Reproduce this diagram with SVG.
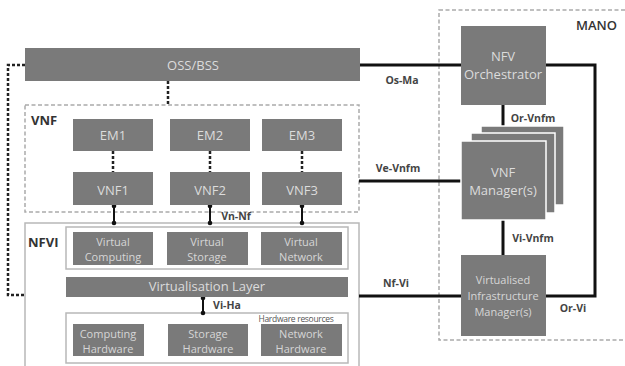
<svg xmlns="http://www.w3.org/2000/svg" width="625" height="366" viewBox="0 0 625 366">
<style>
.box{fill:#7a7a7a}
.frame{fill:none;stroke:#b8b8b8;stroke-width:1.5}
.dframe{fill:none;stroke:#aaaaaa;stroke-width:1.5;stroke-dasharray:4 2.5}
.bt{font-family:"Open Sans","DejaVu Sans",sans-serif;font-size:13px;fill:#dcdcdc;text-anchor:middle}
.bs{font-family:"Open Sans","DejaVu Sans",sans-serif;font-size:11px;fill:#d6d6d6;text-anchor:middle}
.lbl{font-family:"Open Sans","DejaVu Sans",sans-serif;font-size:10.5px;font-weight:bold;fill:#444;text-anchor:middle}
.ttl{font-family:"Open Sans","DejaVu Sans",sans-serif;font-size:13px;font-weight:bold;fill:#333}
.solid{fill:none;stroke:#111;stroke-width:3}
.thin{fill:none;stroke:#111;stroke-width:2}
.dash{fill:none;stroke:#222;stroke-width:2.5;stroke-dasharray:3 2}
.dot{fill:#111}
</style>
<rect width="625" height="366" fill="#ffffff"/>

<g id="mano-frame">
<rect class="dframe" x="439" y="10" width="200" height="330"/>
<text class="ttl" x="576" y="30" style="font-weight:600">MANO</text>
</g>

<g id="vnf-frame">
<rect class="dframe" x="25" y="105" width="334" height="107"/>
<text class="ttl" x="31" y="125">VNF</text>
</g>

<g id="nfvi-frame">
<rect class="frame" x="25" y="223" width="334" height="150"/>
<text class="ttl" x="28" y="247">NFVI</text>
<rect class="frame" x="66" y="227" width="282" height="42"/>
<rect class="frame" x="66" y="313" width="282" height="50"/>
<text x="296" y="322" style="font-family:'Open Sans','DejaVu Sans',sans-serif;font-size:8.5px;fill:#555;text-anchor:middle;letter-spacing:-0.3px">Hardware resources</text>
</g>

<g id="connectors">
<path class="dash" d="M25 65 H8 V295 H25"/>
<path class="dash" d="M168 81 V105"/>
<path class="dash" d="M113 151 V172"/>
<path class="dash" d="M210 151 V172"/>
<path class="dash" d="M302 151 V172"/>
<path class="thin" d="M114 206 V223"/>
<circle class="dot" cx="114" cy="206" r="2.3"/><circle class="dot" cx="114" cy="223" r="2.3"/>
<path class="thin" d="M210 206 V223"/>
<circle class="dot" cx="210" cy="206" r="2.3"/><circle class="dot" cx="210" cy="223" r="2.3"/>
<path class="thin" d="M302 206 V223"/>
<circle class="dot" cx="302" cy="206" r="2.3"/><circle class="dot" cx="302" cy="223" r="2.3"/>
<path class="thin" d="M203 298 V313"/>
<circle class="dot" cx="203" cy="298" r="2.3"/><circle class="dot" cx="203" cy="313" r="2.3"/>
<path class="solid" d="M360 65 H461"/>
<path class="solid" d="M546 65 H595 V296 H546"/>
<path class="solid" d="M503 105 V141"/>
<path class="solid" d="M359 181 H461"/>
<path class="solid" d="M503 220 V255"/>
<path class="solid" d="M359 296 H461"/>
<text class="lbl" x="402" y="84">Os-Ma</text>
<text class="lbl" x="533" y="122">Or-Vnfm</text>
<text class="lbl" x="398" y="172">Ve-Vnfm</text>
<text class="lbl" x="236" y="220">Vn-Nf</text>
<text class="lbl" x="533" y="242">Vi-Vnfm</text>
<text class="lbl" x="396" y="287">Nf-Vi</text>
<text class="lbl" x="227" y="309">Vi-Ha</text>
<text class="lbl" x="573" y="312">Or-Vi</text>
</g>

<g id="oss-bss">
<rect class="box" x="25" y="48" width="335" height="33"/>
<text class="bt" x="193" y="70">OSS/BSS</text>
</g>

<g id="em1"><rect class="box" x="73" y="119" width="80" height="32"/><text class="bt" x="113" y="140">EM1</text></g>
<g id="em2"><rect class="box" x="170" y="119" width="80" height="32"/><text class="bt" x="210" y="140">EM2</text></g>
<g id="em3"><rect class="box" x="262" y="119" width="80" height="32"/><text class="bt" x="302" y="140">EM3</text></g>

<g id="vnf1"><rect class="box" x="73" y="172" width="80" height="33"/><text class="bt" x="113" y="195">VNF1</text></g>
<g id="vnf2"><rect class="box" x="170" y="172" width="80" height="33"/><text class="bt" x="210" y="195">VNF2</text></g>
<g id="vnf3"><rect class="box" x="262" y="172" width="80" height="33"/><text class="bt" x="302" y="195">VNF3</text></g>

<g id="virtual-computing"><rect class="box" x="73" y="232" width="80" height="33"/><text class="bs" x="113" y="246">Virtual</text><text class="bs" x="113" y="261">Computing</text></g>
<g id="virtual-storage"><rect class="box" x="167" y="232" width="81" height="33"/><text class="bs" x="207" y="246">Virtual</text><text class="bs" x="207" y="261">Storage</text></g>
<g id="virtual-network"><rect class="box" x="261" y="232" width="81" height="33"/><text class="bs" x="301" y="246">Virtual</text><text class="bs" x="301" y="261">Network</text></g>

<g id="virtualisation-layer"><rect class="box" x="66" y="277" width="282" height="20"/><text class="bt" x="207" y="291">Virtualisation Layer</text></g>

<g id="computing-hardware"><rect class="box" x="73" y="324" width="71" height="32"/><text class="bs" x="108" y="338">Computing</text><text class="bs" x="108" y="353">Hardware</text></g>
<g id="storage-hardware"><rect class="box" x="168" y="324" width="80" height="32"/><text class="bs" x="208" y="338">Storage</text><text class="bs" x="208" y="353">Hardware</text></g>
<g id="network-hardware"><rect class="box" x="261" y="324" width="81" height="32"/><text class="bs" x="301" y="338">Network</text><text class="bs" x="301" y="353">Hardware</text></g>

<g id="nfv-orchestrator"><rect class="box" x="461" y="26" width="85" height="79"/><text class="bt" x="503" y="61">NFV</text><text class="bt" x="503" y="79">Orchestrator</text></g>

<g id="vnf-managers">
<rect class="box" x="481" y="126" width="83" height="79" stroke="#fff" stroke-width="1.5"/>
<rect class="box" x="471" y="133" width="84" height="80" stroke="#fff" stroke-width="1.5"/>
<rect class="box" x="461" y="141" width="85" height="79" stroke="#fff" stroke-width="1.5"/>
<text class="bt" x="503" y="177">VNF</text><text class="bt" x="503" y="195">Manager(s)</text>
</g>

<g id="vim"><rect class="box" x="461" y="255" width="85" height="81"/><text class="bs" x="503" y="284">Virtualised</text><text class="bs" x="503" y="300">Infrastructure</text><text class="bs" x="503" y="316">Manager(s)</text></g>
</svg>
